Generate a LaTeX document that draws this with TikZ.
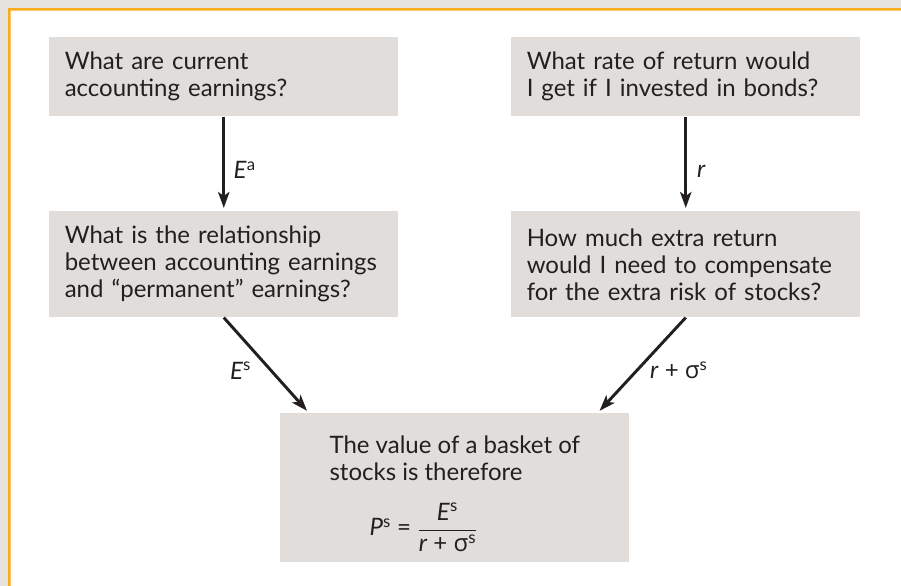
\documentclass[tikz,border=0pt]{standalone}
\usepackage{fontspec}
\setmainfont{Lato}
\newfontfamily\grec{Open Sans}
\usepackage{tikz}
\usetikzlibrary{arrows.meta,positioning}
\definecolor{sable}{HTML}{E6E2DD}
\definecolor{grisclair}{HTML}{E1DDDA}
\definecolor{ambre}{HTML}{F9AC1E}
\definecolor{encre}{HTML}{231F20}

\begin{document}
\begin{tikzpicture}[x=0.75pt,y=-0.75pt,
  font=\fontsize{18}{20.25}\selectfont,text=encre,
  boite/.style={fill=grisclair,anchor=north west,align=left,text width=238.5pt,
    inner xsep=11.6pt,inner ysep=0pt,minimum width=261.75pt},
  fleche/.style={encre,line width=2.2pt,shorten >=2.25pt,
    -{Stealth[length=12pt,width=8.5pt,inset=3pt]}}]
  \useasboundingbox (0,0) rectangle (901,586);
  \fill[sable] (0,0) -- (901,0) -- (901,10) -- (10,10) -- (10,586) -- (0,586) -- cycle;
  \fill[ambre] (8,8) -- (901,8) -- (901,10.5) -- (10.5,10.5) -- (10.5,586) -- (8,586) -- cycle;

  % questions
  \node[boite,minimum height=59.25pt] (gains) at (49,37) {What are current\\accounting earnings?};
  \node[boite,minimum height=79.5pt] (lien) at (49,211) {What is the relationship\\between accounting earnings\\and “permanent” earnings?};
  \node[boite,minimum height=59.25pt] (taux) at (511,37) {What rate of return would\\I get if I invested in bonds?};
  \node[boite,minimum height=79.5pt] (prime) at (511,211) {How much extra return\\would I need to compensate\\for the extra risk of stocks?};

  % result
  \node[fill=grisclair,anchor=north west,align=left,inner xsep=0pt,inner ysep=4pt,
    minimum width=261.75pt,minimum height=111.75pt] (valeur) at (280,413)
    {\rule{0pt}{22pt}The value of a basket of\\stocks is therefore\\[16pt]
     \hspace*{30pt}\textit{P}\textsuperscript{s} =
     $\displaystyle\frac{\hbox{\textit{E}\textsuperscript{s}}}{\hbox{\textit{r} + {\grec σ}\textsuperscript{s}}}$};

  \draw[fleche] (gains) -- node[anchor=west,xshift=3pt,yshift=-4.5pt] (ea) {\textit{E}\textsuperscript{a}} (lien);
  \draw[fleche] (taux) -- node[anchor=west,xshift=4pt,yshift=-6pt] (er) {\textit{r}} (prime);
  \draw[fleche] (lien.south) -- node[anchor=east,xshift=-7pt,yshift=-4pt] (es) {\textit{E}\textsuperscript{s}} ([xshift=21.75pt]valeur.north west);
  \draw[fleche] (prime.south) -- node[anchor=west,xshift=2pt,yshift=-4pt] (rs) {\textit{r} + {\grec σ}\textsuperscript{s}} ([xshift=-24pt]valeur.north east);
\end{tikzpicture}
\end{document}
